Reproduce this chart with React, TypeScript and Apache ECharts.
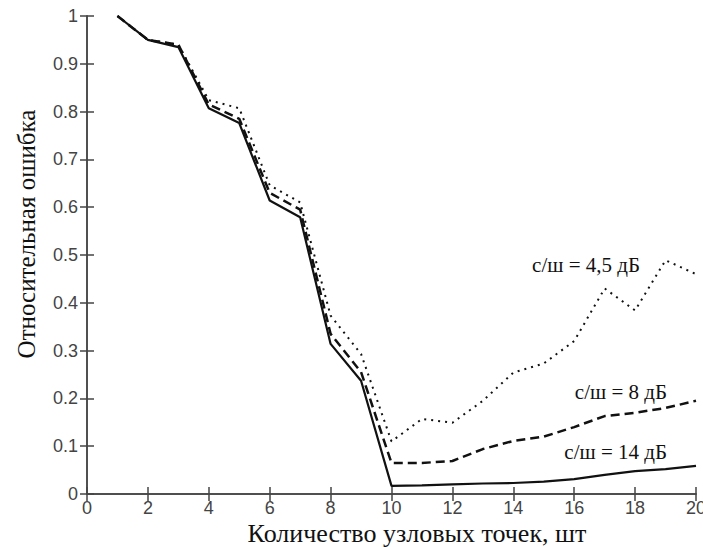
import React, { useEffect, useRef } from "react";
import * as echarts from "echarts";

const xPoints = [1, 2, 3, 4, 5, 6, 7, 8, 9, 10, 11, 12, 13, 14, 15, 16, 17, 18, 19, 20];
const snr14 = [1.0, 0.95, 0.935, 0.807, 0.776, 0.614, 0.579, 0.314, 0.237, 0.017, 0.018, 0.02, 0.022, 0.023, 0.026, 0.031, 0.04, 0.048, 0.052, 0.059];
const snr8 = [1.0, 0.95, 0.94, 0.815, 0.785, 0.63, 0.595, 0.335, 0.255, 0.065, 0.065, 0.069, 0.094, 0.111, 0.12, 0.14, 0.163, 0.17, 0.18, 0.195];
const snr45 = [1.0, 0.95, 0.94, 0.824, 0.807, 0.646, 0.61, 0.373, 0.293, 0.11, 0.157, 0.149, 0.195, 0.254, 0.273, 0.32, 0.43, 0.384, 0.489, 0.46];
const seriesLabels = ["с/ш = 4,5 дБ", "с/ш = 8 дБ", "с/ш = 14 дБ"];
const xTitle = "Количество узловых точек, шт";
const yTitle = "Относительная ошибка";

const axisColor = "#444";
const tickFont = "'Liberation Sans Narrow', 'Arial Narrow', 'Liberation Sans', sans-serif";
const serif = "'Liberation Serif', 'Times New Roman', serif";

export default function App() {
  const ref = useRef<HTMLDivElement>(null);
  useEffect(() => {
    if (!ref.current) return;
    const chart = echarts.init(ref.current, undefined, { renderer: "svg" });
    const pair = (ys: number[]) => xPoints.map((x, i) => [x, ys[i]]);
    const lineAxis = { show: true, lineStyle: { color: axisColor, width: 1.5 } };
    const tick = { show: true, inside: true, length: 7, lineStyle: { color: axisColor, width: 1.5 } };
    chart.setOption({
      animation: false,
      backgroundColor: "#fff",
      grid: { left: 87, top: 16, width: 609, height: 478, containLabel: false, outerBoundsMode: "none" },
      xAxis: [
        {
          type: "value", min: 0, max: 20, interval: 2, position: "bottom",
          axisLine: lineAxis, axisTick: tick, splitLine: { show: false },
          axisLabel: { color: axisColor, fontFamily: tickFont, fontSize: 18, lineHeight: 18, margin: 5 },
        },
        {
          type: "value", min: 0, max: 20, interval: 2, position: "top",
          axisLine: lineAxis, axisTick: tick, splitLine: { show: false }, axisLabel: { show: false },
        },
      ],
      yAxis: [
        {
          type: "value", min: 0, max: 1, interval: 0.1, position: "left",
          axisLine: lineAxis, axisTick: tick, splitLine: { show: false },
          axisLabel: {
            color: axisColor, fontFamily: tickFont, fontSize: 18, margin: 9,
            formatter: (v: number) => (v === 0 ? "0" : v === 1 ? "1" : v.toFixed(1)),
          },
        },
        {
          type: "value", min: 0, max: 1, interval: 0.1, position: "right",
          axisLine: lineAxis, axisTick: tick, splitLine: { show: false }, axisLabel: { show: false },
        },
      ],
      series: [
        {
          name: seriesLabels[0], type: "line", data: pair(snr45), symbol: "none",
          lineStyle: { color: "#111", width: 2, type: [2, 5] },
        },
        {
          name: seriesLabels[1], type: "line", data: pair(snr8), symbol: "none",
          lineStyle: { color: "#111", width: 2.5, type: [9, 5] },
        },
        {
          name: seriesLabels[2], type: "line", data: pair(snr14), symbol: "none",
          lineStyle: { color: "#111", width: 2.2 },
        },
      ],
      graphic: [
        {
          type: "text", x: 417, y: 533,
          style: { text: xTitle, font: `26px ${serif}`, lineHeight: 26, fill: "#111", align: "center", verticalAlign: "middle" },
        },
        {
          type: "text", x: 26, y: 234, rotation: Math.PI / 2,
          style: { text: yTitle, font: `25px ${serif}`, fill: "#111", align: "center", verticalAlign: "middle" },
        },
        {
          type: "text", x: 640, y: 265,
          style: { text: seriesLabels[0], font: `21px ${serif}`, fill: "#111", align: "right", verticalAlign: "middle" },
        },
        {
          type: "text", x: 667, y: 392,
          style: { text: seriesLabels[1], font: `21px ${serif}`, fill: "#111", align: "right", verticalAlign: "middle" },
        },
        {
          type: "text", x: 667, y: 452,
          style: { text: seriesLabels[2], font: `21px ${serif}`, fill: "#111", align: "right", verticalAlign: "middle" },
        },
      ],
    });
    return () => chart.dispose();
  }, []);
  return <div ref={ref} style={{ width: 703, height: 547, position: "absolute", left: 0, top: 0 }} />;
}
